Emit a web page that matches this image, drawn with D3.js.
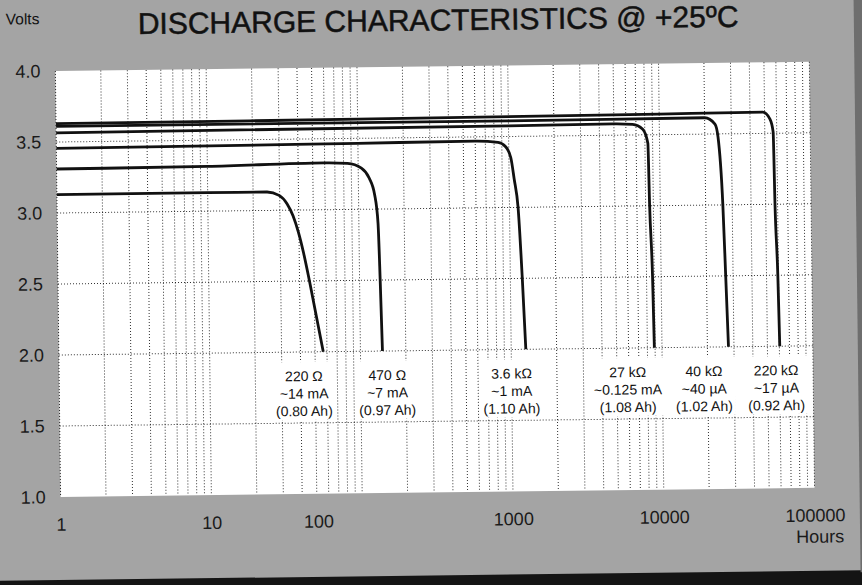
<!DOCTYPE html>
<html>
<head>
<meta charset="utf-8">
<script src="https://cdn.jsdelivr.net/npm/d3@7"></script>
<style>
  body { margin: 0; background: #a4a4a4; }
  svg { display: block; }
  text { font-family: "Liberation Sans", Arial, sans-serif; }
</style>
</head>
<body>
<div id="chart"></div>
<script>
// Discharge curves, [hours, volts]
var curve220R = [[1, 3.13], [10, 3.13], [24.7, 3.13], [29.7, 3.105], [33.5, 3.046], [36.7, 2.959], [39.6, 2.846], [42.8, 2.695], [46.9, 2.48], [56.7, 2.0]];
var curve470R = [[1, 3.31], [10, 3.315], [60, 3.33], [85, 3.325], [105, 3.29], [118, 3.22], [128, 3.1], [134, 2.9], [137, 2.5], [140, 2.0]];
var curve3k6 = [[1, 3.455], [100, 3.465], [600, 3.47], [850, 3.46], [950, 3.43], [1030, 3.35], [1080, 3.2], [1140, 3.0], [1200, 2.5], [1250, 2.0]];
var curve27k = [[1, 3.565], [1000, 3.575], [5000, 3.58], [6650, 3.575], [7760, 3.54], [8370, 3.44], [8500, 3.0], [8770, 2.5], [8900, 2.0]];
var curve40k = [[1, 3.61], [1000, 3.61], [20000, 3.615], [23400, 3.57], [24450, 3.48], [26000, 3.0], [26800, 2.5], [27600, 2.0]];
var curve220k = [[1, 3.63], [100, 3.635], [10000, 3.645], [48700, 3.65], [54250, 3.6], [56800, 3.51], [57650, 3.0], [59400, 2.5], [60400, 2.0]];

var curves = [curve220R, curve470R, curve3k6, curve27k, curve40k, curve220k];

// curve labels
var resistors = ["220 Ω", "470 Ω", "3.6 kΩ", "27 kΩ", "40 kΩ", "220 kΩ"];
var currents = ["~14 mA", "~7 mA", "~1 mA", "~0.125 mA", "~40 µA", "~17 µA"];
var capacities = ["(0.80 Ah)", "(0.97 Ah)", "(1.10 Ah)", "(1.08 Ah)", "(1.02 Ah)", "(0.92 Ah)"];
var labelHours = [42, 150, 1000, 5900, 18900, 56900];

var xTicks = [1, 10, 100, 1000, 10000, 100000];
var yTicks = [1.0, 1.5, 2.0, 2.5, 3.0, 3.5, 4.0];
var yGrid = [1.5, 2.0, 2.5, 3.0, 3.5];

var svgWidth = 862;
var svgHeight = 585;

var margin = {top: 71, right: 50, bottom: 88, left: 58};
var width = svgWidth - margin.left - margin.right;
var height = svgHeight - margin.top - margin.bottom;

var svg = d3.select("#chart")
    .append("svg")
    .attr("width", svgWidth)
    .attr("height", svgHeight);

// the scan is a little tilted, so the whole sheet is too
var sheet = svg.append("g")
    .attr("transform", "rotate(-0.7, 58, 285)");

sheet.append("rect")
    .attr("x", -30).attr("y", -30)
    .attr("width", svgWidth + 60).attr("height", svgHeight + 60)
    .attr("fill", "#a4a4a4");

sheet.append("rect")
    .attr("x", -30).attr("y", 580)
    .attr("width", svgWidth + 60).attr("height", 40)
    .attr("fill", "#141414");

// darker scanner edge on the right
sheet.append("rect")
    .attr("x", 857).attr("y", -30)
    .attr("width", 40).attr("height", 612)
    .attr("fill", "#6e6e6e");

var chartGroup = sheet.append("g")
    .attr("transform", `translate(${margin.left}, ${margin.top})`);

var xLogScale = d3.scaleLog()
    .domain([1, 100000])
    .range([0, width]);

var yLinearScale = d3.scaleLinear()
    .domain([1, 4])
    .range([height, 0]);

chartGroup.append("rect")
    .attr("width", width)
    .attr("height", height)
    .attr("fill", "#fff");

// dotted grid
chartGroup.append("g")
    .selectAll("line")
    .data(xLogScale.ticks())
    .enter()
    .append("line")
    .attr("x1", d => xLogScale(d))
    .attr("x2", d => xLogScale(d))
    .attr("y1", 0)
    .attr("y2", height)
    .attr("stroke", "#000")
    .attr("stroke-width", 1)
    .attr("stroke-dasharray", "1,2")
    .attr("opacity", 0.8);

chartGroup.append("g")
    .selectAll("line")
    .data(yGrid)
    .enter()
    .append("line")
    .attr("x1", 0)
    .attr("x2", width)
    .attr("y1", d => yLinearScale(d))
    .attr("y2", d => yLinearScale(d))
    .attr("stroke", "#000")
    .attr("stroke-width", 1)
    .attr("stroke-dasharray", "1,2")
    .attr("opacity", 0.8);

var line = d3.line()
    .x(d => xLogScale(d[0]))
    .y(d => yLinearScale(d[1]))
    .curve(d3.curveMonotoneX);

chartGroup.append("g")
    .selectAll("path")
    .data(curves)
    .enter()
    .append("path")
    .attr("d", line)
    .attr("fill", "none")
    .attr("stroke", "#111")
    .attr("stroke-width", 2.8);

// labels in white boxes
var labelGroup = chartGroup.append("g")
    .selectAll("g")
    .data(resistors)
    .enter()
    .append("g")
    .attr("transform", (d, i) => `translate(${xLogScale(labelHours[i])}, ${yLinearScale(2.0)})`);

labelGroup.each(function(d, i) {
    var g = d3.select(this);
    var box = g.append("rect").attr("fill", "#fff");
    var rows = [resistors[i], currents[i], capacities[i]];
    var w = 0;
    rows.forEach(function(t, k) {
        var txt = g.append("text")
            .attr("y", 29 + k * 17.5)
            .attr("text-anchor", "middle")
            .style("font-size", "14px")
            .style("fill", "#111")
            .text(t);
        w = Math.max(w, txt.node().getComputedTextLength());
    });
    box.attr("x", -w / 2 - 3)
        .attr("width", w + 6)
        .attr("y", 10)
        .attr("height", 58);
});

// axes
var leftAxis = d3.axisLeft(yLinearScale)
    .tickValues(yTicks)
    .tickFormat(d3.format(".1f"))
    .tickSize(0)
    .tickPadding(15);

var bottomAxis = d3.axisBottom(xLogScale)
    .tickValues(xTicks)
    .tickFormat(d3.format("d"))
    .tickSize(0)
    .tickPadding(21);

var yAxis = chartGroup.append("g").call(leftAxis);
var xAxis = chartGroup.append("g")
    .attr("transform", `translate(0, ${height})`)
    .call(bottomAxis);

[yAxis, xAxis].forEach(function(ax) {
    ax.select(".domain").remove();
    ax.selectAll("text")
        .style("font-size", "18px")
        .style("fill", "#1a1a1a");
});

// on the original sheet the "100" label sits left of its grid line
xAxis.selectAll(".tick text")
    .filter(d => d === 100)
    .attr("dx", -44);

sheet.append("text")
    .attr("x", 817)
    .attr("y", 552)
    .attr("text-anchor", "middle")
    .style("font-size", "18px")
    .style("fill", "#1a1a1a")
    .text("Hours");

sheet.append("text")
    .attr("x", 9)
    .attr("y", 24)
    .style("font-size", "15.5px")
    .style("fill", "#111")
    .text("Volts");

sheet.append("text")
    .attr("x", 141)
    .attr("y", 35)
    .style("font-size", "30px")
    .style("fill", "#111")
    .style("stroke", "#111")
    .style("stroke-width", 0.5)
    .text("DISCHARGE CHARACTERISTICS @ +25ºC");
</script>
</body>
</html>
